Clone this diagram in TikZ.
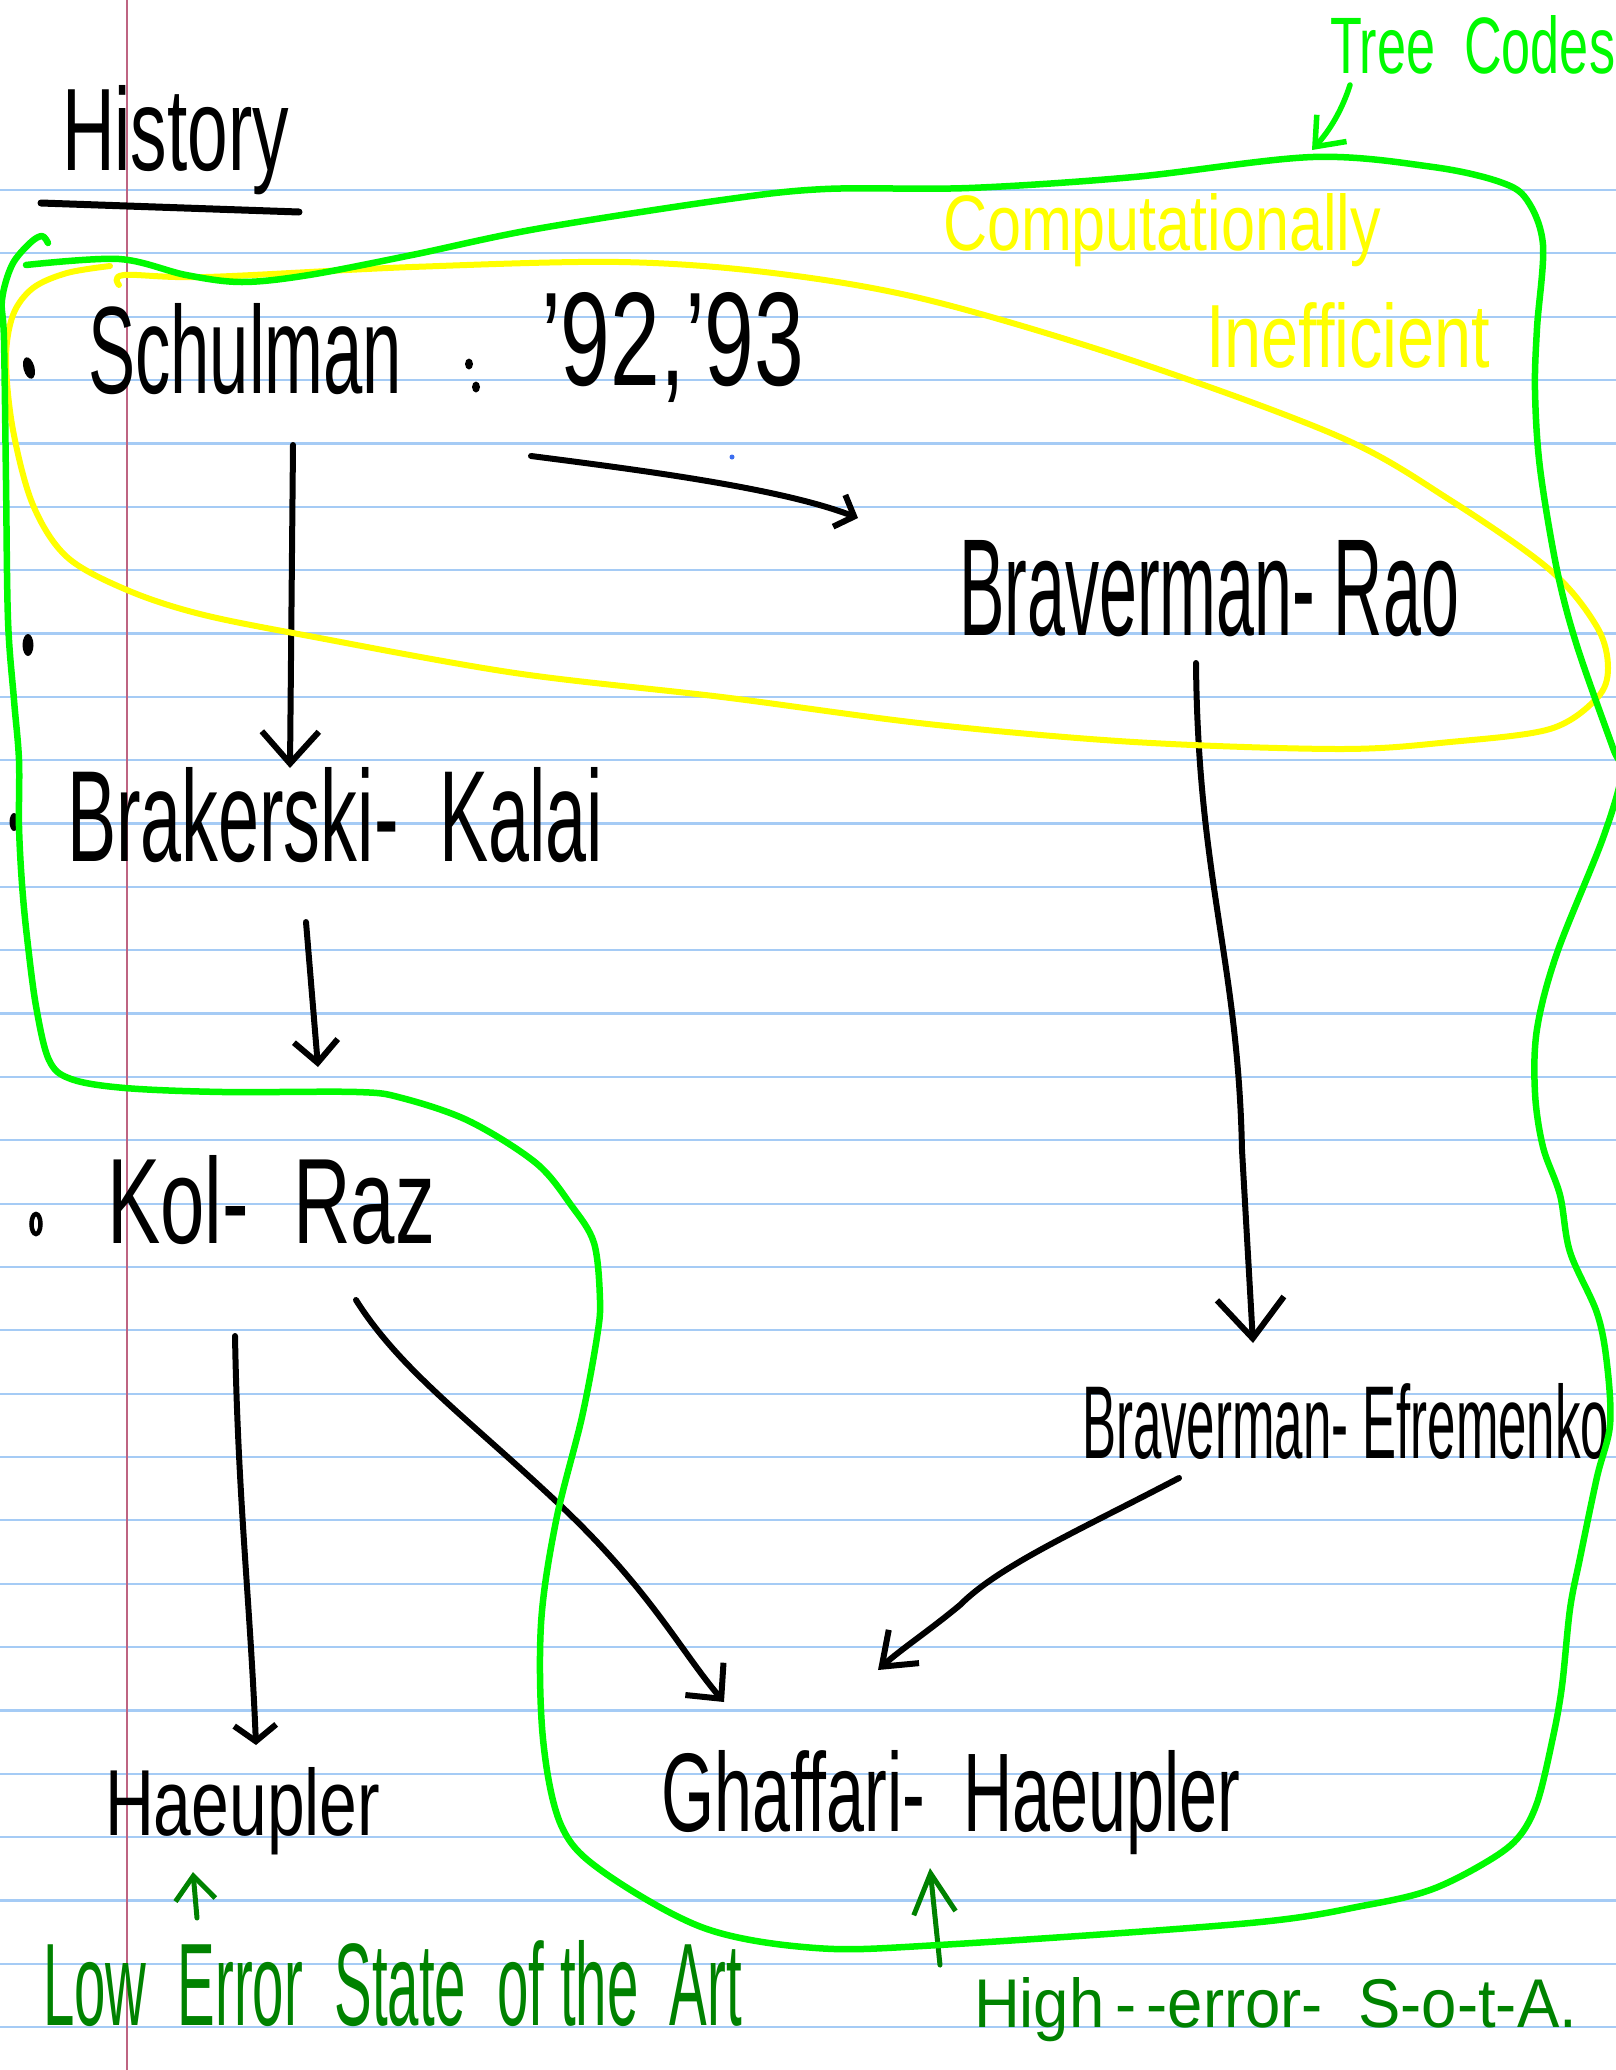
\documentclass[tikz,border=0pt]{standalone}
\usepackage{fontspec}
\setmainfont{Liberation Sans}
\usetikzlibrary{arrows.meta}
\definecolor{paperline}{RGB}{165,203,245}
\definecolor{marginred}{RGB}{190,100,130}
\definecolor{hlgreen}{RGB}{0,250,0}
\definecolor{hlyellow}{RGB}{255,255,0}
\definecolor{pengreen}{RGB}{0,130,0}
\definecolor{strayblue}{RGB}{60,110,240}
\newcommand{\hw}[3]{\resizebox{#1pt}{#2pt}{#3}}
\begin{document}
\begin{tikzpicture}[x=1pt,y=-1pt,
  lbl/.style={anchor=base west, inner sep=0pt, outer sep=0pt},
  blacktext/.style={lbl, text=black},
  yellowtext/.style={lbl, text=hlyellow},
  greentext/.style={lbl, text=hlgreen},
  darktext/.style={lbl, text=pengreen},
  ink/.style={line width=6pt, line cap=round, line join=round, draw=black},
  loopgreen/.style={line width=6.5pt, line cap=round, line join=round, draw=hlgreen},
  loopyellow/.style={line width=6pt, line cap=round, line join=round, draw=hlyellow},
  ruled/.style={line width=2.2pt, draw=paperline},
  marginline/.style={line width=1.8pt, draw=marginred}]
\useasboundingbox (0,0) rectangle (1616,2070);
\fill[white] (0,0) rectangle (1616,2070);
% ruled paper
\foreach \k in {0,...,29}{
  \pgfmathsetmacro{\yy}{190+63.35*\k}
  \draw[ruled] (0,\yy) -- (1616,\yy);
}
\draw[marginline] (127,0) -- (127,2070);

% texts
\node[blacktext] (hist) at (62,170) {\hw{227}{85}{History}};
\draw[line width=7pt, line cap=round] (41,203) -- (299,212);

\node[blacktext] (sch) at (88,393) {\hw{314}{90}{Schulman}};
\node[blacktext] (yrs) at (541,385) {\hw{263}{93}{’92,’93}};
\node[blacktext] (bk) at (67,861) {\hw{536}{94}{Brakerski-\ \ Kalai}};
\node[blacktext] (kr) at (107,1243) {\hw{328}{88}{Kol-\ \ Raz}};
\node[blacktext] (br) at (959,635) {\hw{500}{95}{Braverman-\ Rao}};
\node[blacktext] (be) at (1082,1458) {\hw{527}{75}{Braverman-\ Efremenko}};
\node[blacktext] (hae) at (105,1835) {\hw{275}{68}{Haeupler}};
\node[blacktext] (gh) at (661,1831) {\hw{579}{81}{Ghaffari-\ \ Haeupler}};

\node[yellowtext] (comp) at (943,250) {\hw{438}{57}{Computationally}};
\node[yellowtext] (ineff) at (1206,367) {\hw{284}{65}{Inefficient}};
\node[greentext] (tree) at (1330,73) {\hw{285}{58}{Tree\ \ Codes}};
\node[darktext] (low) at (43,2025) {\hw{699}{85}{Low\ \ Error\ \ State\ \ of the\ \ Art}};
\node[darktext] (high) at (974,2027) {\hw{603}{50}{High\,-\,-error-\ \ S-o-t-A.}};

% bullets and colon
\fill[black, rotate around={15:(29,368)}] (29,368) ellipse [x radius=5.5, y radius=11];
\fill[black] (28,645) ellipse [x radius=5.5, y radius=11];
\fill[black] (14,822) ellipse [x radius=4.5, y radius=9];
\draw[black, line width=4.5pt] (36,1224) ellipse [x radius=4.5, y radius=10];
\fill[black] (469,364) ellipse [x radius=4, y radius=5.5];
\fill[black] (476,387) ellipse [x radius=4, y radius=5.5];
\fill[strayblue] (732,457) circle (2.5);

% arrows between items
\coordinate (a1s) at (293,445);  \coordinate (a1e) at (290,768);
\coordinate (a2s) at (531,456);  \coordinate (a2e) at (858,518);
\coordinate (a3s) at (306,922);  \coordinate (a3e) at (318,1067);
\coordinate (a4s) at (1196,663); \coordinate (a4e) at (1253,1343);
\coordinate (a5s) at (235,1336); \coordinate (a5e) at (256,1745);
\coordinate (a6s) at (356,1300); \coordinate (a6e) at (724,1702);
\coordinate (a7s) at (1179,1478);\coordinate (a7e) at (878,1670);

\draw[ink, -{Straight Barb[length=32pt,width=57pt]}] (a1s) -- (a1e);
\draw[ink, -{Straight Barb[length=16pt,width=34pt]}] (a2s) .. controls (640,470) and (780,488) .. (a2e);
\draw[ink, -{Straight Barb[length=22pt,width=44pt]}] (a3s) -- (a3e);
\draw[ink, -{Straight Barb[length=40pt,width=67pt]}] (a4s) .. controls (1198,880) and (1238,960) .. (1242,1150) -- (a4e);
\draw[ink, -{Straight Barb[length=16pt,width=42pt]}] (a5s) .. controls (238,1500) and (250,1600) .. (a5e);
\draw[ink, -{Straight Barb[length=26pt,width=50pt]}] (a6s) .. controls (400,1370) and (470,1420) .. (560,1505) .. controls (650,1590) and (680,1650) .. (a6e);
\draw[ink, -{Straight Barb[length=30pt,width=45pt]}] (a7s) .. controls (1080,1530) and (1000,1565) .. (960,1605) .. controls (930,1630) and (900,1650) .. (a7e);

% green annotation arrows
\coordinate (t1s) at (1350,85);  \coordinate (t1e) at (1312,150);
\draw[line width=5.5pt, line cap=round, draw=hlgreen, -{Straight Barb[length=25pt,width=40pt]}] (t1s) .. controls (1342,110) and (1330,130) .. (t1e);
\coordinate (g1s) at (197,1918); \coordinate (g1e) at (193,1872);
\draw[line width=5pt, line cap=round, draw=pengreen, -{Straight Barb[length=24pt,width=40pt]}] (g1s) -- (g1e);
\coordinate (g2s) at (940,1965); \coordinate (g2e) at (930,1868);
\draw[line width=5pt, line cap=round, draw=pengreen, -{Straight Barb[length=40pt,width=42pt]}] (g2s) -- (g2e);

% yellow loop
\draw[loopyellow] plot[smooth, tension=0.55] coordinates {
 (119,285) (124,275) (206,277) (412,267) (619,262) (773,273) (928,300) (1134,361)
 (1340,437) (1450,500) (1550,570) (1597,627) (1608,668) (1597,698) (1550,729)
 (1450,742) (1340,749) (1134,742) (928,724) (722,697) (515,673) (309,636) (200,614)
 (127,590) (67,557) (33,505) (13,430) (6,360) (13,315) (33,288) (67,273) (110,266)};

% green loop
\draw[loopgreen] plot[smooth, tension=0.55] coordinates {
 (48,243) (42,236) (30,243) (12,265) (2,300) (4,340) (6,480) (8,620) (14,700)
 (19,760) (19,826) (22,884) (27,937) (36,1006) (49,1060) (71,1079) (125,1088)
 (223,1092) (357,1092) (402,1098) (469,1121) (536,1163) (571,1205) (594,1243)
 (600,1300) (597,1337) (582,1417) (556,1521) (541,1624) (543,1739) (561,1825)
 (602,1871) (704,1928) (816,1948) (939,1945) (1250,1923) (1367,1905) (1430,1890)
 (1483,1864) (1517,1839) (1537,1803) (1553,1737) (1562,1686) (1570,1609)
 (1580,1558) (1597,1477) (1610,1425) (1607,1364) (1597,1313) (1570,1252)
 (1560,1195) (1543,1147) (1535,1093) (1537,1029) (1557,953) (1603,838) (1622,772)
 (1613,748) (1577,646) (1557,570) (1540,468) (1535,391) (1537,328) (1543,245)
 (1527,200) (1500,182) (1433,167) (1313,157) (1134,177) (969,188) (825,189)
 (722,200) (536,229) (412,255) (309,275) (242,282) (186,275) (119,259) (26,265)};
\end{tikzpicture}
\end{document}
